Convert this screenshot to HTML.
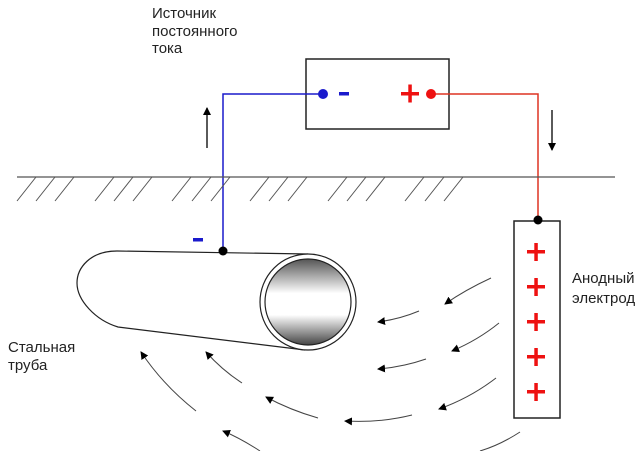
<!DOCTYPE html>
<html><head><meta charset="utf-8"><style>body{margin:0;background:#fff}svg{display:block}text{font-family:"Liberation Sans",sans-serif;font-size:15px;fill:#222}</style></head><body>
<svg width="640" height="451" viewBox="0 0 640 451">
<defs>
<marker id="ah" markerWidth="8" markerHeight="8" refX="7" refY="4" orient="auto" markerUnits="userSpaceOnUse"><path d="M0,0 L8,4 L0,8 Z" fill="#000"/></marker>
<linearGradient id="g" x1="0" y1="0" x2="0" y2="1">
<stop offset="0" stop-color="#555"/><stop offset="0.4" stop-color="#fff"/><stop offset="0.65" stop-color="#fff"/><stop offset="1" stop-color="#444"/></linearGradient>
</defs>
<text x="152" y="18">Источник</text>
<text x="152" y="36">постоянного</text>
<text x="152" y="53">тока</text>
<rect x="306" y="59" width="143" height="70" fill="none" stroke="#222" stroke-width="1.5"/>
<polyline points="323,94 223,94 223,252" fill="none" stroke="#1a1acc" stroke-width="1.5"/>
<circle cx="323" cy="94" r="5" fill="#1a1acc"/>
<rect x="339" y="92" width="10" height="3.5" fill="#1a1acc"/>
<polyline points="431,94 538,94 538,220" fill="none" stroke="#dd3322" stroke-width="1.5"/>
<circle cx="431" cy="94" r="5" fill="#ee1111"/>
<rect x="401" y="92" width="18" height="3.5" fill="#ee1111"/><rect x="408.3" y="84.5" width="3.5" height="18" fill="#ee1111"/>
<line x1="207" y1="148" x2="207" y2="108" stroke="#000" stroke-width="1.3" marker-end="url(#ah)"/>
<line x1="552" y1="110" x2="552" y2="150" stroke="#000" stroke-width="1.3" marker-end="url(#ah)"/>
<line x1="17" y1="177" x2="615" y2="177" stroke="#555" stroke-width="1.2"/>
<g stroke="#555" stroke-width="1">
<path d="M17,201l19,-24M36,201l19,-24M55,201l19,-24M95,201l19,-24M114,201l19,-24M133,201l19,-24M172,201l19,-24M192,201l19,-24M211,201l19,-24M250,201l19,-24M269,201l19,-24M288,201l19,-24M328,201l19,-24M347,201l19,-24M366,201l19,-24M405,201l19,-24M425,201l19,-24M444,201l19,-24"/></g>
<path d="M308,254 L117,251 C90,251 77,268 77,283 C77,300 95,320 118,327 L305,350" fill="none" stroke="#222" stroke-width="1.2"/>
<circle cx="308" cy="302" r="48" fill="#fff" stroke="#222" stroke-width="1.2"/>
<circle cx="308" cy="302" r="43" fill="url(#g)" stroke="#222" stroke-width="1.2"/>
<rect x="193" y="238" width="10" height="3.5" fill="#1a1acc"/>
<circle cx="223" cy="251" r="4.5" fill="#000"/>
<rect x="514" y="221" width="46" height="197" fill="#fff" stroke="#222" stroke-width="1.5"/>
<circle cx="538" cy="220" r="4.5" fill="#000"/>
<g fill="#ee1111">
<rect x="527" y="250" width="18" height="3.5"/><rect x="534.3" y="243" width="3.5" height="18"/>
<rect x="527" y="285" width="18" height="3.5"/><rect x="534.3" y="278" width="3.5" height="18"/>
<rect x="527" y="320" width="18" height="3.5"/><rect x="534.3" y="313" width="3.5" height="18"/>
<rect x="527" y="355" width="18" height="3.5"/><rect x="534.3" y="348" width="3.5" height="18"/>
<rect x="527" y="390" width="18" height="3.5"/><rect x="534.3" y="383" width="3.5" height="18"/>
</g>
<text x="572" y="283">Анодный</text>
<text x="572" y="303">электрод</text>
<text x="8" y="352">Стальная</text>
<text x="8" y="370">труба</text>
<g fill="none" stroke="#444" stroke-width="1" marker-end="url(#ah)">
<path d="M491,278 Q465,290 445,304"/>
<path d="M419,311 Q400,319 378,322"/>
<path d="M499,323 Q478,340 452,351"/>
<path d="M426,359 Q403,367 378,369"/>
<path d="M496,378 Q470,398 439,409"/>
<path d="M412,415 Q380,423 345,421"/>
<path d="M318,418 Q290,410 266,397"/>
<path d="M242,383 Q222,370 206,352"/>
<path d="M196,411 Q163,385 141,352"/>
<path d="M260,451 Q240,438 223,431"/>
</g>
<path d="M520,432 Q500,445 480,451" fill="none" stroke="#444" stroke-width="1"/>
</svg>
</body></html>
